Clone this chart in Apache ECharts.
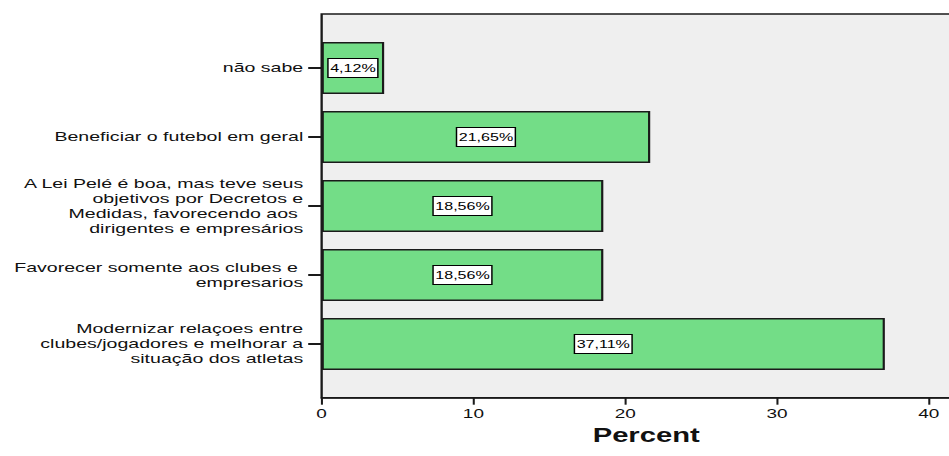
<!DOCTYPE html>
<html>
<head>
<meta charset="utf-8">
<script src="https://cdn.jsdelivr.net/npm/echarts@6/dist/echarts.min.js"></script>
<style>
  html, body { margin: 0; padding: 0; background: #fff; overflow: hidden; }
  /* the chart is laid out narrow and widened horizontally, like the exported figure;
     the panel runs on past the right edge of the window */
  #chart { width: 665px; height: 456px; transform: scaleX(1.46); transform-origin: 0 0; }
</style>
</head>
<body>
<div id="chart"></div>
<script>
// Survey answers, top to bottom
const categories = [
  'não sabe',
  'Beneficiar o futebol em geral',
  'A Lei Pelé é boa, mas teve seus\nobjetivos por Decretos e\nMedidas, favorecendo aos \ndirigentes e empresários',
  'Favorecer somente aos clubes e \nempresarios',
  'Modernizar relaçoes entre\nclubes/jogadores e melhorar a\nsituação dos atletas'
];
// Share of respondents (%)
const percents = [4.12, 21.65, 18.56, 18.56, 37.11];
// Percent axis ticks
const xTicks = [0, 10, 20, 30, 40];

const FONT = '"Liberation Sans", Arial, sans-serif';
const INK = '#111';

const chart = echarts.init(document.getElementById('chart'), null, { renderer: 'svg', width: 665, height: 456 });

const gridLeft = 220.3, gridWidth = 436.6;

chart.setOption({
  animation: false,
  textStyle: { fontFamily: FONT },
  grid: [
    // plot frame with the grey panel
    { left: gridLeft, width: gridWidth, top: 14, bottom: 58.3, show: true, outerBoundsMode: 'none',
      backgroundColor: '#efefef', borderColor: '#1a1a1a', borderWidth: 1.6 },
    // bar band area
    { left: gridLeft, width: gridWidth, top: 33.5, bottom: 77.5, outerBoundsMode: 'none' }
  ],
  xAxis: [
    { gridIndex: 0, type: 'value', min: 0, max: 42, interval: 10,
      name: 'Percent', nameLocation: 'middle', nameGap: 27,
      nameTextStyle: { fontFamily: FONT, fontSize: 20, fontWeight: 'bold', color: INK, padding: [0, 0, 0, 8] },
      axisLine: { show: true, lineStyle: { color: '#1a1a1a', width: 1.6 } },
      axisTick: { show: true, length: 7, lineStyle: { color: '#1a1a1a', width: 1.4 } },
      axisLabel: { fontFamily: FONT, fontSize: 13, color: INK, margin: 9, showMaxLabel: false,
        formatter: v => (xTicks.indexOf(v) >= 0 ? String(v) : '') },
      splitLine: { show: false } },
    { gridIndex: 1, type: 'value', min: 0, max: 42, show: false }
  ],
  yAxis: [
    { gridIndex: 0, type: 'value', show: false },
    { gridIndex: 1, type: 'category', data: categories, inverse: true,
      axisLine: { show: false },
      axisTick: { show: true, alignWithLabel: true, length: 9.2, lineStyle: { color: '#1a1a1a', width: 2 } },
      axisLabel: { fontFamily: FONT, fontSize: 13.4, lineHeight: 15, color: INK, margin: 12.6, align: 'right' } }
  ],
  series: [{
    type: 'bar',
    xAxisIndex: 1, yAxisIndex: 1,
    data: percents,
    barWidth: 52,
    itemStyle: { color: '#73dd87', borderColor: '#1a1a1a', borderWidth: 1.5 },
    label: {
      show: true, position: 'inside',
      formatter: p => p.value.toFixed(2).replace('.', ',') + '%',
      fontFamily: FONT, fontSize: 11, lineHeight: 13, color: '#000',
      backgroundColor: '#fff', borderColor: '#000', borderWidth: 1, padding: [3, 1, 2, 1]
    }
  }]
});
</script>
</body>
</html>
